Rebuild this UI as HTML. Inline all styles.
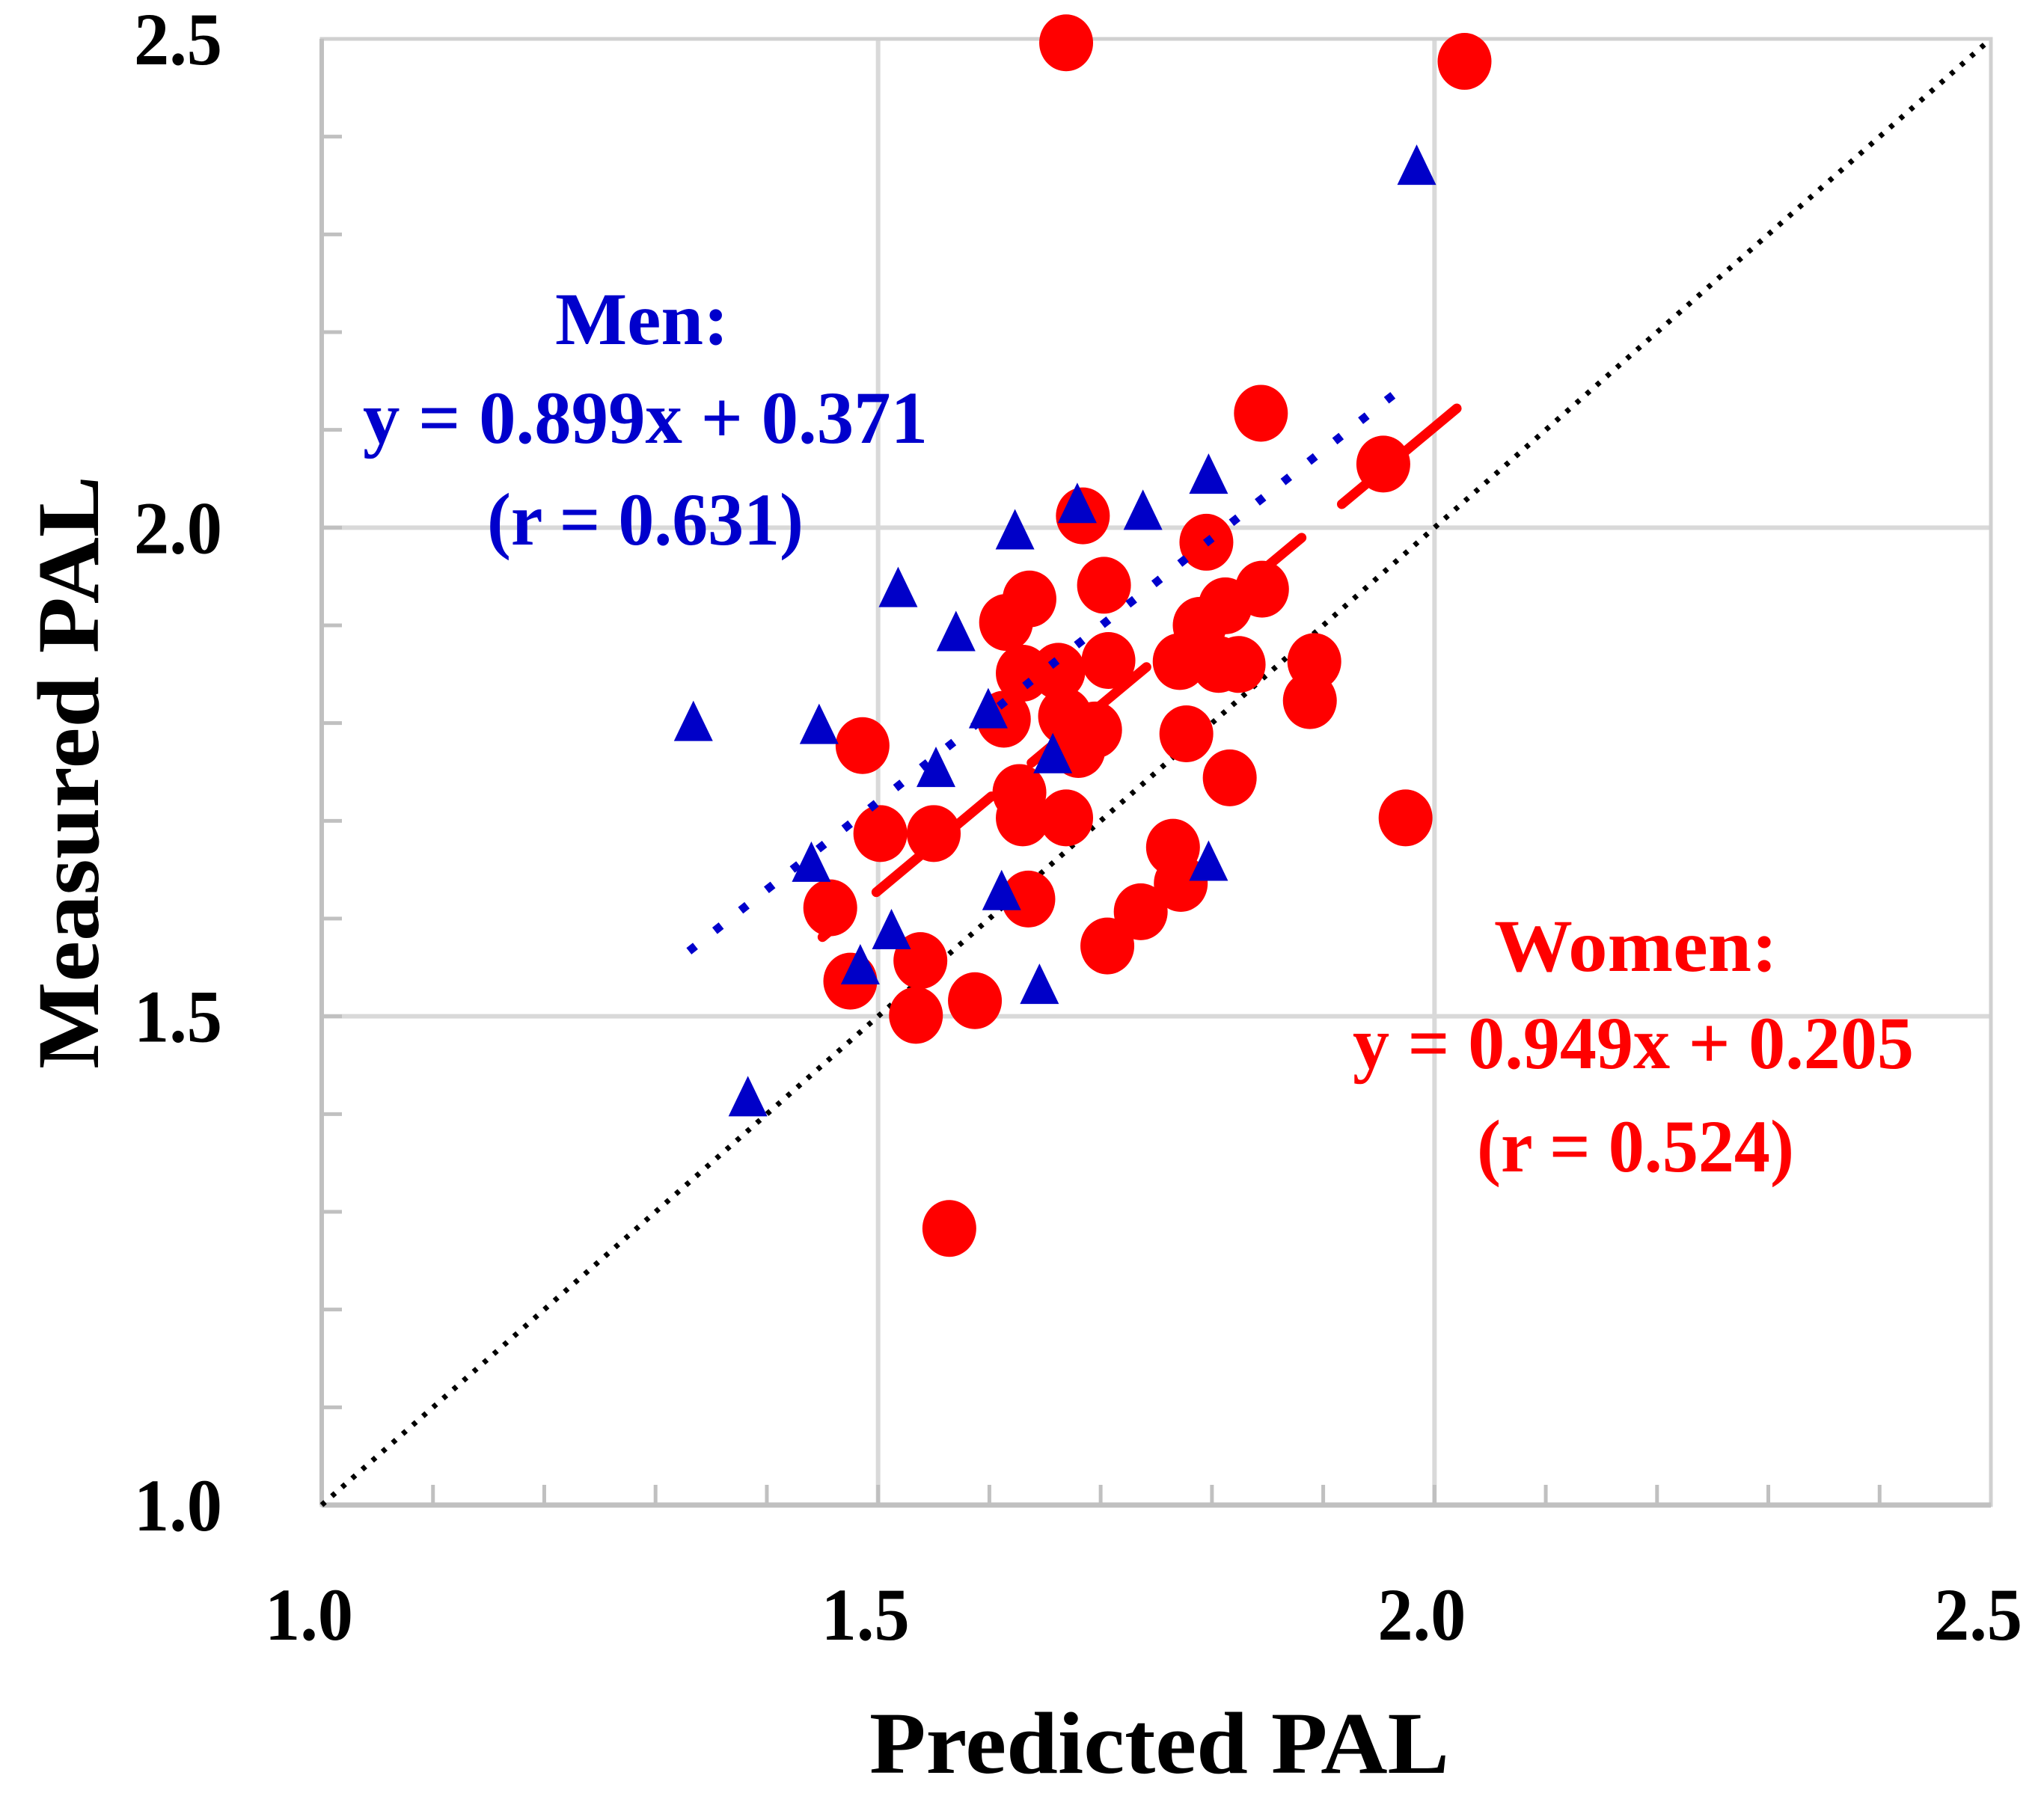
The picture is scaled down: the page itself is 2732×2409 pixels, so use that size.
<!DOCTYPE html>
<html><head><meta charset="utf-8"><style>
html,body{margin:0;padding:0;background:#fff;}
svg{display:block;}
text{font-family:"Liberation Serif",serif;font-weight:bold;}
</style></head><body>
<svg id="chart" width="2732" height="2409" viewBox="0 0 2732 2409" xmlns="http://www.w3.org/2000/svg">
<g id="grid"></g>
<g id="ticks"></g>
<g id="lines"></g>
<g id="marks"></g>
<g id="labels"></g>
<text x="1162" y="2370" font-size="118" textLength="775" lengthAdjust="spacingAndGlyphs">Predicted PAL</text>
<text transform="translate(131,1429) rotate(-90)" x="0" y="0" font-size="118" textLength="793" lengthAdjust="spacingAndGlyphs">Measured PAL</text>
<text x="742" y="460" font-size="100" fill="#0000cc" textLength="232" lengthAdjust="spacingAndGlyphs">Men:</text>
<text x="485" y="592" font-size="100" fill="#0000cc" textLength="755" lengthAdjust="spacingAndGlyphs">y = 0.899x + 0.371</text>
<text x="651" y="728" font-size="100" fill="#0000cc" textLength="423" lengthAdjust="spacingAndGlyphs">(r = 0.631)</text>
<text x="1997" y="1298" font-size="100" fill="#ff0000" textLength="379" lengthAdjust="spacingAndGlyphs">Women:</text>
<text x="1808" y="1428" font-size="100" fill="#ff0000" textLength="750" lengthAdjust="spacingAndGlyphs">y = 0.949x + 0.205</text>
<text x="1974" y="1566" font-size="100" fill="#ff0000" textLength="424" lengthAdjust="spacingAndGlyphs">(r = 0.524)</text>
</svg>
<script>
const tickValues = [1.0, 1.5, 2.0, 2.5];
const tickLabels = ["1.0", "1.5", "2.0", "2.5"];
const womenX = [1.669,2.027,1.844,1.954,1.684,1.795,1.703,1.636,1.615,1.845,1.812,1.789,1.707,1.630,1.662,1.771,1.806,1.824,1.892,1.888,1.613,1.668,1.695,1.680,1.777,1.486,1.816,1.630,1.669,1.627,1.502,1.550,1.974,1.765,1.772,1.635,1.457,1.736,1.706,1.538,1.475,1.534,1.587,1.564];
const womenY = [2.496,2.477,2.117,2.065,2.012,1.985,1.941,1.927,1.903,1.937,1.920,1.900,1.864,1.851,1.853,1.863,1.860,1.860,1.863,1.823,1.804,1.807,1.793,1.773,1.789,1.777,1.744,1.703,1.703,1.729,1.687,1.687,1.703,1.673,1.636,1.620,1.611,1.607,1.572,1.557,1.536,1.501,1.516,1.283];
const menX = [1.984,1.797,1.738,1.623,1.679,1.518,1.570,1.334,1.447,1.552,1.599,1.657,1.440,1.512,1.797,1.611,1.484,1.645,1.383];
const menY = [2.369,2.053,2.016,1.996,2.023,1.937,1.892,1.800,1.797,1.753,1.813,1.767,1.656,1.587,1.657,1.627,1.551,1.531,1.416];
const menFit = [0.899, 0.371];
const menRange = [1.33, 1.976];
const womenFit = [0.949, 0.205];
const womenRange = [1.45, 2.02];

const NS = "http://www.w3.org/2000/svg";
const L = 430, R = 2661, T = 52, B = 2012;
function sx(v){ return L + (v - 1) / 1.5 * (R - L); }
function sy(v){ return B - (v - 1) / 1.5 * (B - T); }
function mk(tag, attrs, parent){
  const e = document.createElementNS(NS, tag);
  for (const k in attrs) e.setAttribute(k, attrs[k]);
  parent.appendChild(e);
  return e;
}
const grid = document.getElementById('grid');
const ticks = document.getElementById('ticks');
const lines = document.getElementById('lines');
const marks = document.getElementById('marks');
const labels = document.getElementById('labels');

for (let i = 1; i < tickValues.length - 1; i++) {
  const v = tickValues[i];
  let g1 = mk('line', {x1: sx(v), x2: sx(v), y1: T, y2: B, stroke: '#d9d9d9', 'stroke-width': 6}, grid);
  
  
  let g2 = mk('line', {x1: L, x2: R, y1: sy(v), y2: sy(v), stroke: '#d9d9d9', 'stroke-width': 6}, grid);
  
  
}
let fr = mk('rect', {x: L, y: T, width: R - L, height: B - T, fill: 'none', stroke: '#d0d0d0', 'stroke-width': 5}, grid);


let ax = mk('line', {x1: L, x2: R, y1: B, y2: B, stroke: '#c0c0c0', 'stroke-width': 7}, grid);


let ay = mk('line', {x1: L, x2: L, y1: T, y2: B, stroke: '#c0c0c0', 'stroke-width': 6}, grid);



for (let k = 1; k < 15; k++) {
  const v = 1 + k * 0.1;
  let t1 = mk('line', {x1: sx(v), x2: sx(v), y1: B, y2: B - 27, stroke: '#c0c0c0', 'stroke-width': 5}, ticks);
  
  
  let t2 = mk('line', {x1: L, x2: L + 27, y1: sy(v), y2: sy(v), stroke: '#c0c0c0', 'stroke-width': 5}, ticks);
  
  
}

for (let i = 0; i < tickValues.length; i++) {
  const v = tickValues[i];
  let xl = mk('text', {x: sx(v) - 17, y: 2192, 'font-size': 100, 'text-anchor': 'middle', textLength: 118, lengthAdjust: 'spacingAndGlyphs'}, labels);
  xl.textContent = tickLabels[i];
  
  
  let yl = mk('text', {x: 297, y: sy(v) + 34, 'font-size': 100, 'text-anchor': 'end', textLength: 118, lengthAdjust: 'spacingAndGlyphs'}, labels);
  yl.textContent = tickLabels[i];
  
  
}

let id = mk('line', {x1: sx(1), y1: sy(1), x2: sx(2.5), y2: sy(2.5), stroke: '#000', 'stroke-width': 7, 'stroke-dasharray': '6 12'}, lines);



// women regression (dashed, drawn from top end, beneath circles)
let wl = mk('line', {x1: sx(womenRange[1]), y1: sy(womenFit[0]*womenRange[1]+womenFit[1]), x2: sx(womenRange[0]), y2: sy(womenFit[0]*womenRange[0]+womenFit[1]), stroke: '#ff0000', 'stroke-width': 13, 'stroke-dasharray': '200 70', 'stroke-linecap': 'round'}, marks);



for (let i = 0; i < womenX.length; i++) {
  let c = mk('ellipse', {cx: sx(womenX[i]), cy: sy(womenY[i]), rx: 36, ry: 38, fill: '#ff0000'}, marks);
  
  
}
let ml = mk('line', {x1: sx(menRange[0]), y1: sy(menFit[0]*menRange[0]+menFit[1]), x2: sx(menRange[1]), y2: sy(menFit[0]*menRange[1]+menFit[1]), stroke: '#0000cc', 'stroke-width': 11, 'stroke-dasharray': '11 33'}, marks);


for (let i = 0; i < menX.length; i++) {
  const cx = sx(menX[i]), cy = sy(menY[i]);
  let p = mk('polygon', {points: `${cx},${cy-30} ${cx-26},${cy+24} ${cx+26},${cy+24}`, fill: '#0000c8'}, marks);
  
  
}
</script>
</body></html>
